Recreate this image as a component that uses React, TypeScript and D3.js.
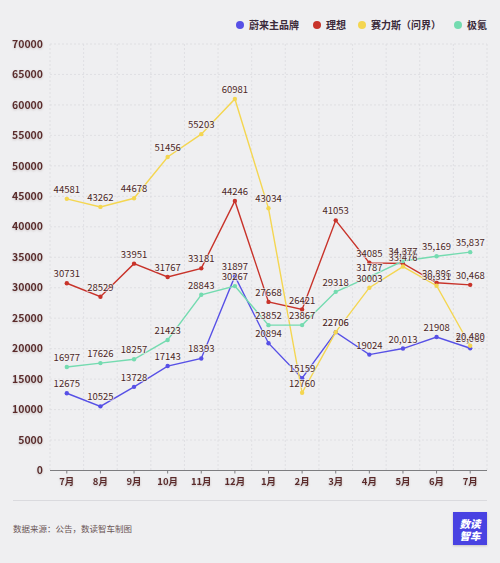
import React, { useEffect, useRef } from 'react';
import * as d3 from 'd3';

// 月份
const months = ['7月', '8月', '9月', '10月', '11月', '12月', '1月', '2月', '3月', '4月', '5月', '6月', '7月'];

// 各品牌月销量
const nioValues = [12675, 10525, 13728, 17143, 18393, 31897, 20894, 15159, 22706, 19024, 20013, 21908, 20060];
const liValues = [30731, 28529, 33951, 31767, 33181, 44246, 27668, 26421, 41053, 34085, 33976, 30806, 30468];
const seresValues = [44581, 43262, 44678, 51456, 55203, 60981, 43034, 12760, 22706, 30003, 33476, 30331, 20480];
const zeekrValues = [16977, 17626, 18257, 21423, 28843, 30267, 23852, 23867, 29318, 31787, 34377, 35169, 35837];

const seriesNames = ['蔚来主品牌', '理想', '赛力斯（问界）', '极氪'];
const seriesColors = ['#5750e6', '#c8332a', '#f4d651', '#74dbb0'];

const yTicks = [0, 5000, 10000, 15000, 20000, 25000, 30000, 35000, 40000, 45000, 50000, 55000, 60000, 65000, 70000];

// labels from 5月 on are printed with a thousands separator (except one)
const commaFrom = 10;
const noComma = new Set(['0-11']);

const FONT = '"Noto Sans CJK SC", "Noto Sans", sans-serif';

const App: React.FC = () => {
  const svgRef = useRef<SVGSVGElement>(null);

  useEffect(() => {
    if (!svgRef.current) return;
    const svg = d3.select(svgRef.current);
    svg.selectAll('*').remove();

    const width = 500;
    const height = 563;
    const left = 50;
    const right = 487;
    const top = 44;
    const bottom = 470.5;

    svg.append('rect').attr('width', width).attr('height', height).attr('fill', '#efeff1');

    const defs = svg.append('defs');
    const f = defs.append('filter').attr('id', 'glow').attr('x', '-20%').attr('y', '-40%').attr('width', '140%').attr('height', '180%');
    f.append('feDropShadow').attr('dx', 0).attr('dy', 1).attr('stdDeviation', 1.2)
      .attr('flood-color', '#9a8a8a').attr('flood-opacity', 0.45);

    const x = d3.scaleBand<number>().domain(d3.range(months.length)).range([left, right]);
    const cx = (i: number) => (x(i) as number) + x.bandwidth() / 2;
    const y = d3.scaleLinear().domain([0, 70000]).range([bottom, top]);

    // grid
    const grid = svg.append('g').attr('stroke', '#dcdce0').attr('stroke-width', 0.8).attr('stroke-dasharray', '2,2');
    yTicks.filter(t => t > 0).forEach(t => {
      grid.append('line').attr('x1', left).attr('x2', right).attr('y1', y(t)).attr('y2', y(t));
    });
    d3.range(months.length + 1).forEach(i => {
      const gx = left + i * x.bandwidth();
      grid.append('line').attr('x1', gx).attr('x2', gx).attr('y1', top).attr('y2', bottom);
    });

    // y axis labels
    svg.append('g').selectAll('text').data(yTicks).join('text')
      .attr('x', 43).attr('y', d => y(d)).attr('dy', '0.35em')
      .attr('text-anchor', 'end')
      .attr('font-family', FONT).attr('font-size', 10.5).attr('font-weight', 700)
      .attr('fill', '#5b2b2b').attr('filter', 'url(#glow)')
      .text(d => String(d));

    // x axis
    svg.append('line').attr('x1', left).attr('x2', right).attr('y1', bottom).attr('y2', bottom)
      .attr('stroke', '#7d7d80').attr('stroke-width', 1);
    svg.append('g').selectAll('line').data(d3.range(months.length)).join('line')
      .attr('x1', d => cx(d)).attr('x2', d => cx(d)).attr('y1', bottom).attr('y2', bottom + 3)
      .attr('stroke', '#7d7d80');
    svg.append('g').selectAll('text').data(months).join('text')
      .attr('x', (d, i) => cx(i)).attr('y', 482).attr('dy', '0.35em')
      .attr('text-anchor', 'middle')
      .attr('font-family', FONT).attr('font-size', 9.5).attr('font-weight', 700)
      .attr('fill', '#5b2b2b').attr('filter', 'url(#glow)')
      .text(d => d);

    const allSeries = [nioValues, liValues, seresValues, zeekrValues];
    const line = d3.line<number>().x((d, i) => cx(i)).y(d => y(d));

    allSeries.forEach((vals, s) => {
      svg.append('path').datum(vals).attr('d', line)
        .attr('fill', 'none').attr('stroke', seriesColors[s]).attr('stroke-width', 1.4);
      svg.append('g').selectAll('circle').data(vals).join('circle')
        .attr('cx', (d, i) => cx(i)).attr('cy', d => y(d)).attr('r', 2.2)
        .attr('fill', seriesColors[s]);
    });

    const fmt = d3.format(',');
    allSeries.forEach((vals, s) => {
      svg.append('g').selectAll('text').data(vals).join('text')
        .attr('x', (d, i) => cx(i)).attr('y', d => y(d) - 6)
        .attr('text-anchor', 'middle')
        .attr('font-family', FONT).attr('font-size', 9.5)
        .attr('fill', '#4a2626')
        .attr('stroke', '#f6f4f4').attr('stroke-width', 1.6).attr('stroke-opacity', 0.7)
        .attr('paint-order', 'stroke')
        .text((d, i) => (i >= commaFrom && !noComma.has(`${s}-${i}`) ? fmt(d) : String(d)));
    });

    // legend
    const legendX = [240, 317, 362, 458];
    const legend = svg.append('g');
    seriesNames.forEach((name, s) => {
      legend.append('circle').attr('cx', legendX[s]).attr('cy', 25).attr('r', 4).attr('fill', seriesColors[s]);
      legend.append('text').attr('x', legendX[s] + 9).attr('y', 25).attr('dy', '0.35em')
        .attr('font-family', FONT).attr('font-size', 10).attr('font-weight', 700)
        .attr('fill', '#3b2a3a').text(name);
    });

    // footer
    svg.append('line').attr('x1', 13).attr('x2', 487).attr('y1', 500.5).attr('y2', 500.5)
      .attr('stroke', '#dadade').attr('stroke-width', 1);
    svg.append('text').attr('x', 13).attr('y', 529).attr('dy', '0.35em')
      .attr('font-family', FONT).attr('font-size', 8.5).attr('fill', '#6a5555')
      .text('数据来源：公告，数读智车制图');

    const logo = svg.append('g').attr('transform', 'translate(453,512)');
    logo.append('rect').attr('width', 34).attr('height', 33).attr('fill', '#4a42e2')
      .attr('filter', 'url(#glow)');
    ['数读', '智车'].forEach((t, i) => {
      logo.append('text').attr('x', 17).attr('y', 12 + i * 12).attr('dy', '0.35em')
        .attr('text-anchor', 'middle')
        .attr('font-family', FONT).attr('font-size', 10.5).attr('font-weight', 900)
        .attr('font-style', 'italic').attr('fill', '#ffffff').text(t);
    });
  }, []);

  return (
    <svg
      ref={svgRef}
      width={500}
      height={563}
      style={{ position: 'absolute', left: 0, top: 0, display: 'block' }}
    />
  );
};

export default App;
